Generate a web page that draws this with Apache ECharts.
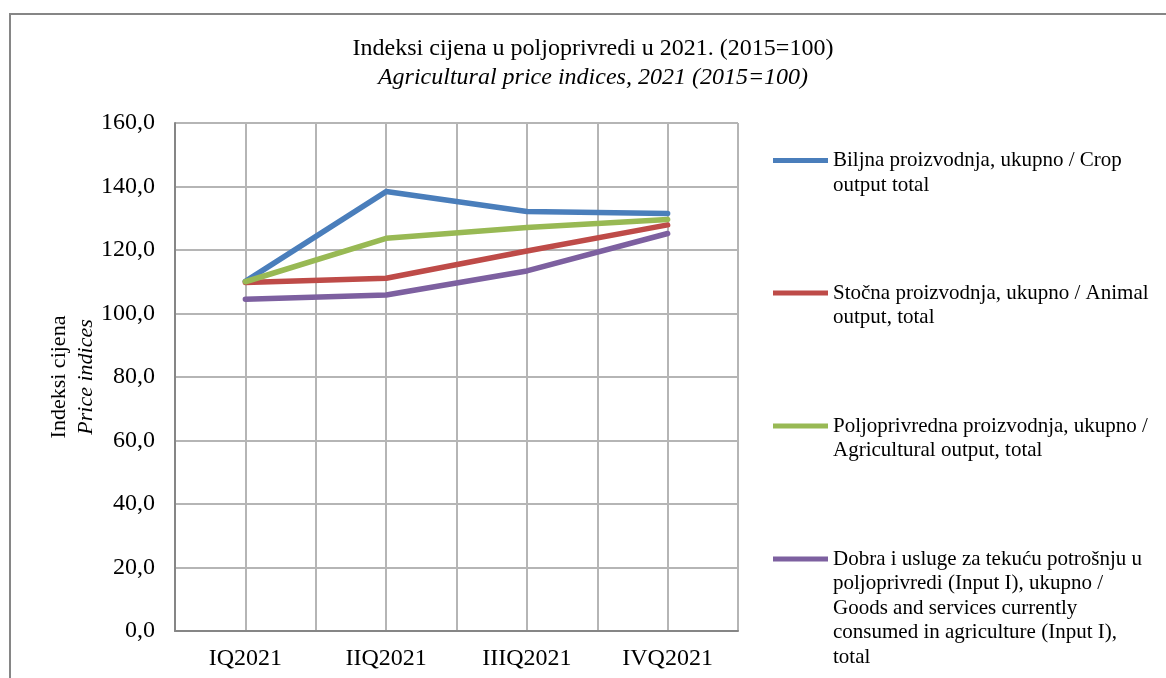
<!DOCTYPE html>
<html lang="hr">
<head>
    <meta charset="utf-8">
    <title>Indeksi cijena u poljoprivredi</title>
    <script src="https://cdn.jsdelivr.net/npm/echarts@6/dist/echarts.min.js"></script>
    <style type="text/css">
        html, body {
            margin: 0;
            padding: 0;
            background: #ffffff;
        }

        #main {
            width: 1166px;
            height: 678px;
        }
    </style>
</head>
<body>
<div id="main"></div>
<script type="text/javascript">
    // kvartali
    const quarters = ['IQ2021', 'IIQ2021', 'IIIQ2021', 'IVQ2021'];
    const yTicks = [0, 20, 40, 60, 80, 100, 120, 140, 160];

    // indeksi (2015=100), očitano sa slike
    const cropOutput = [110.1, 138.4, 132.1, 131.5];
    const animalOutput = [109.8, 111.1, 119.7, 127.9];
    const agriOutput = [110.0, 123.7, 127.1, 129.6];
    const inputOne = [104.5, 105.8, 113.4, 125.2];

    const seriesNames = [
        'Biljna proizvodnja, ukupno / Crop\noutput total',
        'Stočna proizvodnja, ukupno / Animal\noutput, total',
        'Poljoprivredna proizvodnja, ukupno /\nAgricultural output, total',
        'Dobra i usluge za tekuću potrošnju u\npoljoprivredi (Input I), ukupno /\nGoods and services currently\nconsumed in agriculture (Input I),\ntotal'
    ];
    const seriesColors = ['#4a7ebb', '#be4b48', '#98b954', '#7d60a0'];
    const seriesValues = [cropOutput, animalOutput, agriOutput, inputOne];

    const font = '"Liberation Serif", "Times New Roman", serif';
    const lineH = 24.5;
    // y centar ikone legende za svaku stavku
    const legendIconY = [160.5, 293, 426, 559];

    let chart = echarts.init(document.getElementById('main'));

    // prazni redovi ispred teksta da prvi red stoji uz liniju
    let legends = seriesNames.map(function (name, i) {
        let n = name.split('\n').length;
        return {
            orient: 'vertical',
            left: 773,
            top: legendIconY[i] - (2 * n - 1) * lineH / 2,
            padding: 0,
            icon: 'rect',
            itemWidth: 55,
            itemHeight: 5,
            selectedMode: false,
            data: [name],
            formatter: function (nm) {
                return '\n'.repeat(n - 1) + nm;
            },
            textStyle: {
                fontFamily: font,
                fontSize: 21,
                color: '#000',
                lineHeight: lineH
            }
        };
    });

    let series = seriesValues.map(function (vals, i) {
        return {
            name: seriesNames[i],
            type: 'line',
            symbol: 'none',
            color: seriesColors[i],
            lineStyle: {width: 5.5, color: seriesColors[i], cap: 'round', join: 'round'},
            data: vals.map(function (v, k) { return [k + 0.5, v]; })
        };
    });

    chart.setOption({
        animation: false,
        backgroundColor: '#ffffff',
        title: {
            text: 'Indeksi cijena u poljoprivredi u 2021. (2015=100)',
            subtext: 'Agricultural price indices, 2021 (2015=100)',
            left: 593,
            top: 37,
            textAlign: 'center',
            padding: 0,
            itemGap: 5,
            textStyle: {fontFamily: font, fontSize: 24, fontWeight: 'normal', color: '#000'},
            subtextStyle: {fontFamily: font, fontSize: 24, fontStyle: 'italic', color: '#000'}
        },
        legend: legends,
        grid: {left: 175, top: 123, right: 428, bottom: 47},
        xAxis: {
            type: 'value',
            min: 0,
            max: quarters.length,
            interval: 0.5,
            axisLine: {show: true, lineStyle: {color: '#868686', width: 2}},
            axisTick: {show: false},
            splitLine: {show: true, lineStyle: {color: '#b5b5b5', width: 2}},
            axisLabel: {
                fontFamily: font,
                fontSize: 24,
                color: '#000',
                margin: 16,
                showMinLabel: true,
                showMaxLabel: true,
                formatter: function (v) {
                    let k = Math.floor(v);
                    return (Math.abs(v - k - 0.5) < 1e-6) ? quarters[k] : '';
                }
            }
        },
        yAxis: {
            type: 'value',
            min: yTicks[0],
            max: yTicks[yTicks.length - 1],
            interval: 20,
            name: '{a|Indeksi cijena}\n{b|Price indices}',
            nameLocation: 'middle',
            nameRotate: 90,
            nameGap: 75,
            nameTextStyle: {
                rich: {
                    a: {fontFamily: font, fontSize: 22, color: '#000', lineHeight: 27},
                    b: {fontFamily: font, fontSize: 22, color: '#000', fontStyle: 'italic', lineHeight: 27}
                }
            },
            axisLine: {show: true, lineStyle: {color: '#868686', width: 2}},
            axisTick: {show: false},
            splitLine: {show: true, lineStyle: {color: '#b5b5b5', width: 2}},
            axisLabel: {
                fontFamily: font,
                fontSize: 24,
                color: '#000',
                margin: 20,
                formatter: function (v) { return v.toFixed(1).replace('.', ','); }
            }
        },
        graphic: [{
            type: 'rect',
            shape: {x: 10, y: 14, width: 1170, height: 700},
            style: {fill: null, stroke: '#868686', lineWidth: 2},
            silent: true,
            z: -1
        }],
        series: series
    });
</script>
</body>
</html>
